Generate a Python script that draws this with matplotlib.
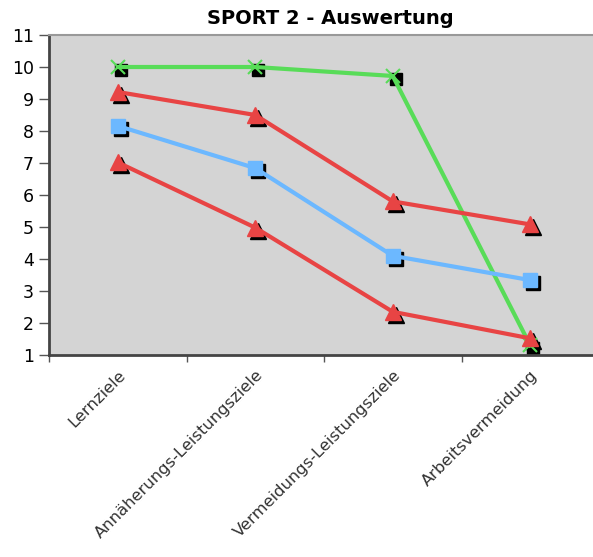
import matplotlib
matplotlib.use("Agg")
import matplotlib.pyplot as plt
from matplotlib.transforms import offset_copy

# Daten
kategorien = ["Lernziele", "Annäherungs-Leistungsziele",
              "Vermeidungs-Leistungsziele", "Arbeitsvermeidung"]
gruen = [10.0, 10.0, 9.72, 1.3]
rot_oben = [9.22, 8.5, 5.8, 5.08]
blau = [8.16, 6.84, 4.1, 3.34]
rot_unten = [7.02, 4.98, 2.35, 1.52]

x = list(range(len(kategorien)))

fig = plt.figure(figsize=(5.93, 5.57), dpi=100)
ax = fig.add_axes([49/593, 1 - 355/557, 550/593, 320/557])
ax.set_facecolor("#d4d4d4")

# Schatten der Marker (nach rechts unten versetzt)
schatten = offset_copy(ax.transData, fig=fig, x=3, y=-3, units="dots")
ax.plot(x, gruen, ls="none", marker="s", ms=8, color="black", transform=schatten, zorder=2)
ax.plot(x, rot_oben, ls="none", marker="^", ms=11, color="black", transform=schatten, zorder=2)
ax.plot(x, blau, ls="none", marker="s", ms=9.5, color="black", transform=schatten, zorder=2)
ax.plot(x, rot_unten, ls="none", marker="^", ms=11, color="black", transform=schatten, zorder=2)

# Linien
ax.plot(x, gruen, color="#58dc58", lw=3, marker="x", ms=10, mew=1.5, zorder=3)
ax.plot(x, rot_oben, color="#e84444", lw=3, marker="^", ms=11, zorder=3)
ax.plot(x, blau, color="#6cb8ff", lw=3, marker="s", ms=9.5, zorder=3)
ax.plot(x, rot_unten, color="#e84444", lw=3, marker="^", ms=11, zorder=3)

ax.set_xlim(-0.5, 3.5)
ax.set_ylim(1, 11)
ax.set_yticks(range(1, 12))
ax.tick_params(axis="y", labelsize=12.5, length=7, width=1, color="#555555", pad=4)

ax.set_xticks(x)
ax.set_xticklabels(kategorien, rotation=45, ha="right", rotation_mode="anchor",
                   fontsize=11.8, color="#333333")
ax.tick_params(axis="x", which="major", length=0, pad=9)
ax.set_xticks([-0.5, 0.5, 1.5, 2.5], minor=True)
ax.tick_params(axis="x", which="minor", length=5, width=1, color="#555555")

ax.spines["left"].set_color("#444444")
ax.spines["left"].set_linewidth(2)
ax.spines["bottom"].set_color("#444444")
ax.spines["bottom"].set_linewidth(2)
ax.spines["top"].set_color("#999999")
ax.spines["top"].set_linewidth(1.5)
ax.spines["right"].set_visible(False)

fig.text(330/593, 1 - 18/557, "SPORT 2 - Auswertung", ha="center", va="center",
         fontsize=14, fontweight="bold")

fig.savefig("out.png", dpi=100)
